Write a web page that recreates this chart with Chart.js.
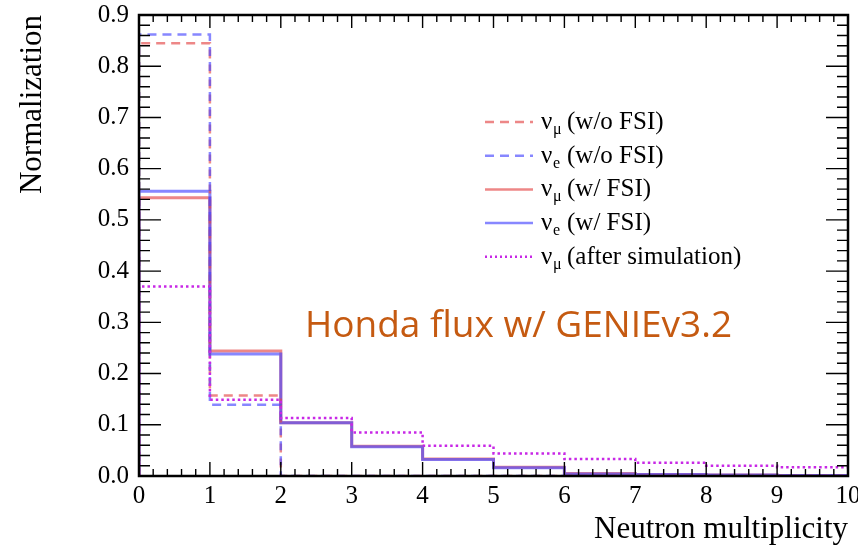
<!DOCTYPE html>
<html lang="en">
<head>
  <meta charset="UTF-8">
  <title>Neutron multiplicity</title>
  <script src="https://cdn.jsdelivr.net/npm/chart.js"></script>
  <style>
    body { margin: 0; background: #fff; }
    canvas { display: block; }
  </style>
</head>
<body>
  <canvas id="nChart" width="858" height="545"></canvas>

  <script>
    // bin edges of neutron multiplicity and bin contents (normalized)
    const binEdges = [0, 1, 2, 3, 4, 5, 6, 7, 8, 9, 10];
    const numuNoFsi = [0.845, 0.157, 0, 0, 0, 0, 0, 0, 0, 0];
    const nueNoFsi  = [0.862, 0.139, 0, 0, 0, 0, 0, 0, 0, 0];
    const numuFsi   = [0.543, 0.244, 0.104, 0.058, 0.033, 0.017, 0.005, 0.003, 0.002, 0.001];
    const nueFsi    = [0.556, 0.238, 0.104, 0.057, 0.032, 0.016, 0.004, 0.003, 0.002, 0.001];
    const numuSim   = [0.370, 0.149, 0.113, 0.085, 0.059, 0.044, 0.033, 0.026, 0.020, 0.017];

    const yTicks = [0, 0.1, 0.2, 0.3, 0.4, 0.5, 0.6, 0.7, 0.8, 0.9];
    const xTicks = [0, 1, 2, 3, 4, 5, 6, 7, 8, 9, 10];

    const red = 'rgba(228,70,70,0.65)';
    const blue = 'rgba(70,70,255,0.65)';
    const magenta = 'rgb(200,40,230)';

    const legendItems = [
      { sub: 'μ', text: '(w/o FSI)', color: red, dash: [9, 6] },
      { sub: 'e', text: '(w/o FSI)', color: blue, dash: [9, 6] },
      { sub: 'μ', text: '(w/ FSI)', color: red, dash: [] },
      { sub: 'e', text: '(w/ FSI)', color: blue, dash: [] },
      { sub: 'μ', text: '(after simulation)', color: magenta, dash: [2, 3] }
    ];

    // step points for a histogram outline: horizontal at each bin, then down/up
    function histPoints(vals) {
      const pts = [{ x: binEdges[0], y: 0 }];
      vals.forEach((v, i) => pts.push({ x: binEdges[i], y: v }));
      pts.push({ x: binEdges[binEdges.length - 1], y: vals[vals.length - 1] });
      return pts;
    }

    function histSet(label, vals, color, dash, width) {
      return {
        label: label,
        data: histPoints(vals),
        borderColor: color,
        borderDash: dash,
        borderWidth: width,
        stepped: 'before',
        pointRadius: 0,
        fill: false
      };
    }

    const serif = '"Liberation Serif", "DejaVu Serif", serif';

    const decorPlugin = {
      id: 'rootStyle',
      afterDraw(chart) {
        const ctx = chart.ctx;
        const xs = chart.scales.x, ys = chart.scales.y;
        const a = chart.chartArea;
        ctx.save();

        // frame
        ctx.strokeStyle = '#000';
        ctx.lineWidth = 2.5;
        ctx.strokeRect(a.left, a.top, a.right - a.left, a.bottom - a.top);

        // y ticks, both sides
        ctx.lineWidth = 1.4;
        for (let k = 0; k <= 45; k++) {
          const py = ys.getPixelForValue(k * 0.02);
          const len = k % 5 === 0 ? 22 : 11;
          ctx.beginPath();
          ctx.moveTo(a.left, py); ctx.lineTo(a.left + len, py);
          ctx.moveTo(a.right, py); ctx.lineTo(a.right - len, py);
          ctx.stroke();
        }
        // x ticks, both sides
        for (let k = 0; k <= 50; k++) {
          const px = xs.getPixelForValue(k * 0.2);
          const major = k % 5 === 0;
          ctx.beginPath();
          ctx.moveTo(px, a.bottom); ctx.lineTo(px, a.bottom - (major ? 14 : 7));
          ctx.moveTo(px, a.top); ctx.lineTo(px, a.top + (major ? 13 : 7));
          ctx.stroke();
        }

        // tick labels
        ctx.fillStyle = '#000';
        ctx.font = '25px ' + serif;
        ctx.textAlign = 'right';
        ctx.textBaseline = 'middle';
        yTicks.forEach(v => ctx.fillText(v.toFixed(1), a.left - 10, ys.getPixelForValue(v)));
        ctx.textAlign = 'center';
        ctx.textBaseline = 'top';
        xTicks.forEach(v => ctx.fillText(String(v), xs.getPixelForValue(v), a.bottom + 8));

        // axis titles
        ctx.font = '31px ' + serif;
        ctx.textAlign = 'right';
        ctx.textBaseline = 'alphabetic';
        ctx.fillText('Neutron multiplicity', a.right, 538);
        ctx.save();
        ctx.translate(41, a.top);
        ctx.rotate(-Math.PI / 2);
        ctx.fillText('Normalization', 0, 0);
        ctx.restore();

        // legend
        legendItems.forEach((it, i) => {
          const cy = 122 + i * 33.7;
          ctx.strokeStyle = it.color;
          ctx.lineWidth = it.color === magenta ? 2.5 : 2.5;
          ctx.setLineDash(it.dash);
          ctx.beginPath();
          ctx.moveTo(485, cy); ctx.lineTo(533, cy);
          ctx.stroke();
          ctx.setLineDash([]);
          ctx.fillStyle = '#000';
          ctx.textAlign = 'left';
          ctx.textBaseline = 'alphabetic';
          ctx.font = '25px ' + serif;
          ctx.fillText('ν', 541, cy + 7);
          ctx.font = '16px ' + serif;
          ctx.fillText(it.sub, 553, cy + 12);
          ctx.font = '25px ' + serif;
          ctx.fillText(it.text, 567, cy + 7);
        });

        // annotation
        ctx.fillStyle = '#c55a11';
        ctx.font = '37px "Open Sans", sans-serif';
        ctx.textAlign = 'left';
        ctx.fillText('Honda flux w/ GENIEv3.2', 305, 337, 475);

        ctx.restore();
      }
    };

    // first dataset is drawn on top
    new Chart(document.getElementById('nChart'), {
      type: 'line',
      data: {
        datasets: [
          histSet('numu (after simulation)', numuSim, magenta, [2.5, 3], 2.5),
          histSet('nue (w/o FSI)', nueNoFsi, blue, [9, 6], 2.5),
          histSet('numu (w/o FSI)', numuNoFsi, red, [9, 6], 2.5),
          histSet('nue (w/ FSI)', nueFsi, blue, [], 3),
          histSet('numu (w/ FSI)', numuFsi, red, [], 3)
        ]
      },
      options: {
        responsive: false,
        animation: false,
        layout: { padding: { top: 15, right: 10, left: 0, bottom: 0 } },
        scales: {
          x: {
            type: 'linear', min: 0, max: 10,
            grid: { display: false }, border: { display: false },
            ticks: { display: false },
            afterFit: s => { s.height = 69; }
          },
          y: {
            min: 0, max: 0.9,
            grid: { display: false }, border: { display: false },
            ticks: { display: false },
            afterFit: s => { s.width = 139; }
          }
        },
        plugins: {
          legend: { display: false },
          tooltip: { enabled: false }
        }
      },
      plugins: [decorPlugin]
    });
  </script>
</body>
</html>
